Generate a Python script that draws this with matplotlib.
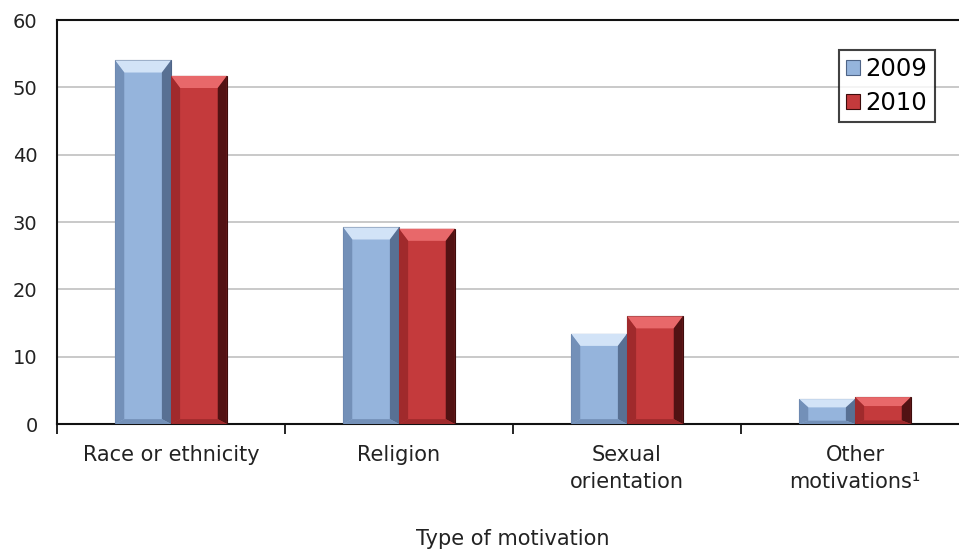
import numpy as np
import matplotlib
matplotlib.use("Agg")
import matplotlib.pyplot as plt
from matplotlib.patches import Polygon

categories = ["Race or ethnicity", "Religion", "Sexual\norientation", "Other\nmotivations\u00b9"]
years = ["2009", "2010"]
vals_2009 = [54.0, 29.2, 13.4, 3.7]
vals_2010 = [51.7, 29.0, 16.0, 4.0]

# body, top bevel, left side, right side
blue = ("#95b4dc", "#d2e3f7", "#7390b8", "#4e6487")
red = ("#c43a3c", "#e8686a", "#a02a2c", "#3e0c0c")

fig = plt.figure(figsize=(9.59, 5.5), dpi=100)
ax = fig.add_axes([57/959, 126/550, 912/959, 404/550])

x = np.arange(len(categories))
w = 0.245


def bevel_bars(xs, vals, cols, label):
    bars = ax.bar(xs, vals, w, color=cols[0], edgecolor=cols[3], linewidth=0.8,
                  label=label, zorder=3)
    for b in bars:
        x0, wd, h = b.get_x(), b.get_width(), b.get_height()
        dx = 0.04
        dy = min(1.8, h / 3)
        # top bevel
        ax.add_patch(Polygon([(x0, h), (x0 + wd, h), (x0 + wd - dx, h - dy), (x0 + dx, h - dy)],
                             closed=True, facecolor=cols[1], edgecolor="none", zorder=4))
        # left side
        ax.add_patch(Polygon([(x0, 0), (x0, h), (x0 + dx, h - dy), (x0 + dx, dy * 0.4)],
                             closed=True, facecolor=cols[2], edgecolor="none", zorder=4))
        # right side
        ax.add_patch(Polygon([(x0 + wd, 0), (x0 + wd, h), (x0 + wd - dx, h - dy), (x0 + wd - dx, dy * 0.4)],
                             closed=True, facecolor=cols[3], edgecolor="none", zorder=4, alpha=0.85))
        # bottom
        ax.add_patch(Polygon([(x0, 0), (x0 + wd, 0), (x0 + wd - dx, dy * 0.4), (x0 + dx, dy * 0.4)],
                             closed=True, facecolor=cols[2], edgecolor="none", zorder=4))
    return bars


bevel_bars(x - w / 2, vals_2009, blue, years[0])
bevel_bars(x + w / 2, vals_2010, red, years[1])

ax.set_xlim(-0.5, 3.5)
ax.set_ylim(0, 60)
ax.set_yticks(range(0, 61, 10))
ax.yaxis.grid(True, color="#c0c0c0", linewidth=1.2, zorder=0)
ax.set_axisbelow(True)

ax.set_xticks(x)
ax.set_xticklabels(categories, fontsize=15, color="#222222", linespacing=1.45)
ax.tick_params(axis="x", length=0, pad=15)
ax.set_xticks(np.arange(-0.5, 3.6, 1), minor=True)
ax.tick_params(axis="x", which="minor", length=7, width=1.2, direction="out")
ax.tick_params(axis="y", length=0, labelsize=14, pad=14, labelcolor="#222222")

for s in ["left", "top", "bottom"]:
    ax.spines[s].set_color("#111111")
    ax.spines[s].set_linewidth(1.5)
ax.spines["right"].set_visible(False)

ax.set_xlabel("Type of motivation", fontsize=15, color="#222222")
ax.xaxis.set_label_coords(0.5, -0.26)

leg = ax.legend(loc="upper left", bbox_to_anchor=(839/959, 1 - 50/550), bbox_transform=fig.transFigure,
                fontsize=17.5, frameon=True, fancybox=False, handlelength=0.55, handleheight=0.55,
                handletextpad=0.25, borderpad=0.3, labelspacing=0.4, borderaxespad=0)
leg.get_frame().set_edgecolor("#111111")
leg.get_frame().set_linewidth(1.5)

fig.savefig("out.png", dpi=100)
